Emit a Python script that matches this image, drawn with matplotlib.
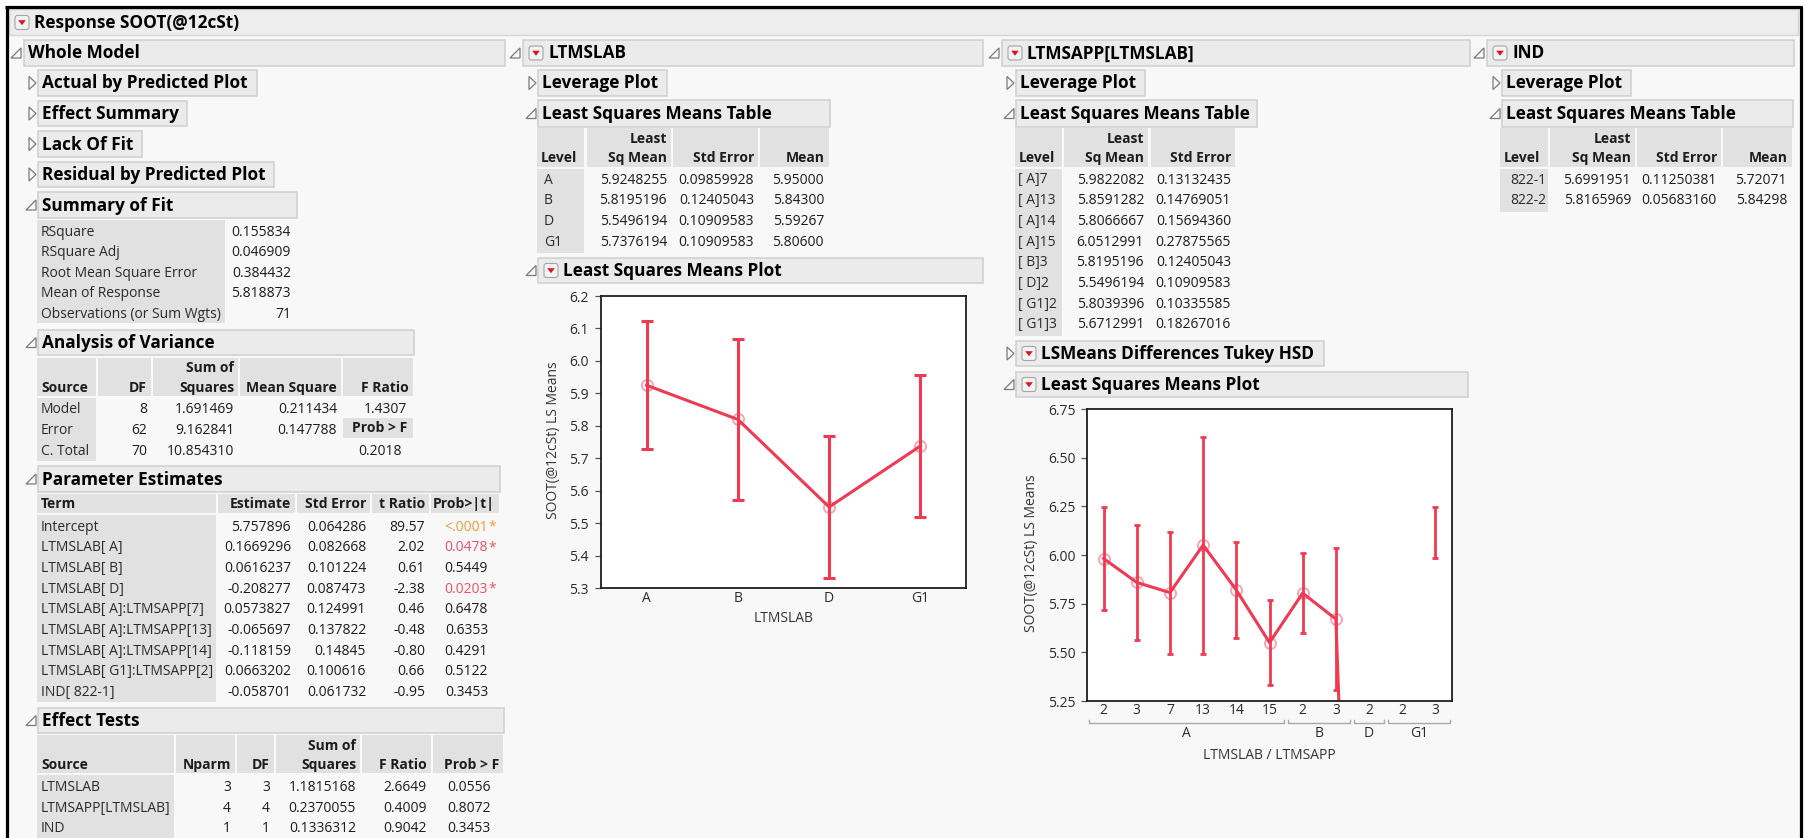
import numpy as np
import matplotlib
matplotlib.use("Agg")
import matplotlib.pyplot as plt
from matplotlib.patches import Rectangle, Polygon, FancyBboxPatch

plt.rcParams['font.family'] = ['Open Sans', 'DejaVu Sans']

# ---------------- data ----------------
report_title = "Response SOOT(@12cSt)"

fit_labels = ["RSquare", "RSquare Adj", "Root Mean Square Error", "Mean of Response",
              "Observations (or Sum Wgts)"]
fit_values = ["0.155834", "0.046909", "0.384432", "5.818873", "71"]

anova_source = ["Model", "Error", "C. Total"]
anova_df = ["8", "62", "70"]
anova_ss = ["1.691469", "9.162841", "10.854310"]
anova_ms = ["0.211434", "0.147788", ""]
anova_f = ["1.4307", "", ""]
anova_prob = "0.2018"

pe_terms = ["Intercept", "LTMSLAB[ A]", "LTMSLAB[ B]", "LTMSLAB[ D]",
            "LTMSLAB[ A]:LTMSAPP[7]", "LTMSLAB[ A]:LTMSAPP[13]", "LTMSLAB[ A]:LTMSAPP[14]",
            "LTMSLAB[ G1]:LTMSAPP[2]", "IND[ 822-1]"]
pe_est = ["5.757896", "0.1669296", "0.0616237", "-0.208277", "0.0573827", "-0.065697",
          "-0.118159", "0.0663202", "-0.058701"]
pe_se = ["0.064286", "0.082668", "0.101224", "0.087473", "0.124991", "0.137822",
         "0.14845", "0.100616", "0.061732"]
pe_t = ["89.57", "2.02", "0.61", "-2.38", "0.46", "-0.48", "-0.80", "0.66", "-0.95"]
pe_prob = ["<.0001*", "0.0478*", "0.5449", "0.0203*", "0.6478", "0.6353", "0.4291",
           "0.5122", "0.3453"]

et_source = ["LTMSLAB", "LTMSAPP[LTMSLAB]", "IND"]
et_nparm = ["3", "4", "1"]
et_df = ["3", "4", "1"]
et_ss = ["1.1815168", "0.2370055", "0.1336312"]
et_f = ["2.6649", "0.4009", "0.9042"]
et_prob = ["0.0556", "0.8072", "0.3453"]

lab_levels = ["A", "B", "D", "G1"]
lab_lsmean = [5.9248255, 5.8195196, 5.5496194, 5.7376194]
lab_se = [0.09859928, 0.12405043, 0.10909583, 0.10909583]
lab_mean = ["5.95000", "5.84300", "5.59267", "5.80600"]
lab_lower = [5.728, 5.572, 5.331, 5.519]
lab_upper = [6.122, 6.067, 5.768, 5.956]

app_levels = ["[ A]7", "[ A]13", "[ A]14", "[ A]15", "[ B]3", "[ D]2", "[ G1]2", "[ G1]3"]
app_lsmean = [5.9822082, 5.8591282, 5.8066667, 6.0512991, 5.8195196, 5.5496194,
              5.8039396, 5.6712991]
app_se = [0.13132435, 0.14769051, 0.15694360, 0.27875565, 0.12405043, 0.10909583,
          0.10335585, 0.18267016]

plot2_groups = ["A", "A", "A", "A", "A", "A", "B", "B", "D", "G1", "G1"]
plot2_labels = ["2", "3", "7", "13", "14", "15", "2", "3", "2", "2", "3"]
plot2_means = [5.982, 5.859, 5.807, 6.051, 5.820, 5.550, 5.804, 5.671, 1.0, np.nan, np.nan]
plot2_lower = [5.720, 5.564, 5.493, 5.494, 5.572, 5.331, 5.597, 5.306, np.nan, np.nan, 5.985]
plot2_upper = [6.245, 6.154, 6.120, 6.608, 6.067, 5.768, 6.011, 6.036, np.nan, np.nan, 6.245]

ind_levels = ["822-1", "822-2"]
ind_lsmean = [5.6991951, 5.8165969]
ind_se = [0.11250381, 0.05683160]
ind_mean = ["5.72071", "5.84298"]

# ---------------- style ----------------
W, H = 1804, 838
BG = '#F8F8F8'
HDR = '#EBEBEB'
HDR_EDGE = '#CFCFCF'
CELL = '#E1E1E1'
TXT = '#1C1C1C'
RED = '#EF3A52'
HSIZE = 12.4
BSIZE = 10

fig = plt.figure(figsize=(W / 100, H / 100), dpi=100, facecolor='white')
ov = fig.add_axes([0, 0, 1, 1])
ov.set_xlim(0, W)
ov.set_ylim(H, 0)
ov.set_axis_off()

ov.add_patch(Rectangle((7, 7), 1793, H, facecolor=BG, edgecolor='none'))
for xs, ys in [([6.5, 6.5], [6, H + 5]), ([5, 1802], [7.5, 7.5]), ([1800.5, 1800.5], [6, H + 5])]:
    ov.plot(xs, ys, color='black', lw=2.3, solid_capstyle='butt')


def button(x, yc):
    ov.add_patch(FancyBboxPatch((x, yc - 7), 14, 14, boxstyle='round,pad=0,rounding_size=2.5',
                                facecolor='#F3F3F3', edgecolor='#A5A5A5', lw=0.8))
    ov.add_patch(Polygon([(x + 3.2, yc - 2.3), (x + 10.8, yc - 2.3), (x + 7, yc + 2.7)],
                         closed=True, facecolor='#DD1620', edgecolor='none'))


def tri_closed(x, yc):
    ov.add_patch(Polygon([(x, yc - 6.5), (x, yc + 6.5), (x + 7, yc)], closed=True,
                         fill=False, edgecolor='#7A7A7A', lw=0.9))


def tri_open(x, yc):
    ov.add_patch(Polygon([(x, yc + 5), (x + 10, yc + 5), (x + 10, yc - 5)], closed=True,
                         fill=False, edgecolor='#7A7A7A', lw=0.9))


def header(x0, x1, y0, y1, text, tri=None, tri_x=None, btn=False):
    ov.add_patch(Rectangle((x0, y0), x1 - x0, y1 - y0, facecolor=HDR, edgecolor=HDR_EDGE, lw=1.1))
    yc = (y0 + y1) / 2
    tx = x0 + 4
    if btn:
        button(x0 + 6, yc)
        tx = x0 + 25
    ov.text(tx, yc + 0.5, text, fontsize=HSIZE, fontweight='bold', color='black',
            ha='left', va='center')
    if tri == 'open':
        tri_open(tri_x, yc)
    elif tri == 'closed':
        tri_closed(tri_x, yc)


def table(cols, hy0, hy1, head, head_y, rows_y, body_y1, data, first_left=None,
          first_right=None, val_right=None):
    for (x0, x1) in cols:
        ov.add_patch(Rectangle((x0, hy0), x1 - x0, hy1 - hy0, facecolor=CELL, edgecolor='none'))
    fx0, fx1 = cols[0]
    ov.add_patch(Rectangle((fx0, hy1 + 2), fx1 - fx0, body_y1 - hy1 - 2, facecolor=CELL,
                           edgecolor='none'))
    for j, (x0, x1) in enumerate(cols):
        for line, y in zip(head[j], head_y):
            if not line:
                continue
            if j == 0:
                ov.text(x0 + 4, y, line, fontsize=BSIZE, fontweight='bold', color=TXT,
                        ha='left', va='center')
            else:
                ov.text(x1 - 4, y, line, fontsize=BSIZE, fontweight='bold', color=TXT,
                        ha='right', va='center')
    for j, col in enumerate(data):
        x0, x1 = cols[j]
        for i, s in enumerate(col):
            y = rows_y[i]
            if j == 0:
                if first_right is not None:
                    ov.text(first_right, y, s, fontsize=BSIZE, color='#2A2A2A', ha='right', va='center')
                else:
                    ov.text(x0 + (first_left if first_left is not None else 4), y, s,
                            fontsize=BSIZE, color='#2A2A2A', ha='left', va='center')
            else:
                xr = x1 - 4 if val_right is None or val_right[j] is None else val_right[j]
                ov.text(xr, y, s, fontsize=BSIZE, color=TXT, ha='right', va='center')


# ---- title bar ----
ov.add_patch(Rectangle((9, 9), 1789, 26, facecolor='#EDEDED', edgecolor='#D6D6D6', lw=1))
button(15, 22.5)
ov.text(34, 23, report_title, fontsize=HSIZE, fontweight='bold', color='black', ha='left', va='center')

# ---- column headers ----
header(24, 505, 40, 66, "Whole Model", tri='open', tri_x=11)
header(523, 983, 40, 66, "LTMSLAB", tri='open', tri_x=510, btn=True)
header(1002, 1470, 40, 66, "LTMSAPP[LTMSLAB]", tri='open', tri_x=989, btn=True)
header(1487, 1794, 40, 66, "IND", tri='open', tri_x=1474, btn=True)

# ---- Whole Model column ----
header(38, 257, 70, 96, "Actual by Predicted Plot", tri='closed', tri_x=29)
header(38, 187, 101, 126, "Effect Summary", tri='closed', tri_x=29)
header(38, 142, 131, 157, "Lack Of Fit", tri='closed', tri_x=29)
header(38, 274, 162, 187, "Residual by Predicted Plot", tri='closed', tri_x=29)
header(38, 297, 192, 218, "Summary of Fit", tri='open', tri_x=26)

ov.add_patch(Rectangle((37, 220), 188, 103, facecolor=CELL, edgecolor='none'))
for i, (lab, val) in enumerate(zip(fit_labels, fit_values)):
    y = 232 + 20.6 * i
    ov.text(41, y, lab, fontsize=BSIZE, color='#2A2A2A', ha='left', va='center')
    ov.text(291, y, val, fontsize=BSIZE, color=TXT, ha='right', va='center')

header(38, 414, 330, 355, "Analysis of Variance", tri='open', tri_x=26)
table([(37, 96), (98, 151), (153, 238), (240, 341), (343, 413)], 358, 396,
      [["", "Source"], ["", "DF"], ["Sum of", "Squares"], ["", "Mean Square"], ["", "F Ratio"]],
      [368, 388], [409, 430, 451], 461,
      [anova_source, anova_df, anova_ss, anova_ms, anova_f],
      val_right=[None, None, None, None, 407])
ov.add_patch(Rectangle((343, 418), 70, 20, facecolor=CELL, edgecolor='none'))
ov.text(407, 428, "Prob > F", fontsize=BSIZE, fontweight='bold', color=TXT, ha='right', va='center')
ov.text(402, 451, anova_prob, fontsize=BSIZE, color=TXT, ha='right', va='center')

header(38, 500, 466, 492, "Parameter Estimates", tri='open', tri_x=26)
pe_rows = [527 + 20.7 * i for i in range(len(pe_terms))]
table([(37, 216), (218, 295), (297, 370), (372, 429), (431, 499)], 494, 513,
      [["Term"], ["Estimate"], ["Std Error"], ["t Ratio"], ["Prob>|t|"]],
      [504], pe_rows, 702, [pe_terms, pe_est, pe_se, pe_t])
for i, p in enumerate(pe_prob):
    col = TXT
    if p.startswith('<'):
        col = '#F39A3A'
    elif p.endswith('*'):
        col = '#F04E6A'
    ov.text(488, pe_rows[i], p.rstrip('*'), fontsize=BSIZE, color=col, ha='right', va='center')
    if p.endswith('*'):
        ov.text(488, pe_rows[i], '*', fontsize=BSIZE, color=col, ha='left', va='center')

header(38, 504, 708, 733, "Effect Tests", tri='open', tri_x=26)
table([(37, 174), (176, 235), (237, 274), (276, 360), (362, 431), (433, 503)], 735, 773,
      [["", "Source"], ["", "Nparm"], ["", "DF"], ["Sum of", "Squares"], ["", "F Ratio"],
       ["", "Prob > F"]],
      [746, 765], [787, 808, 828], 840,
      [et_source, et_nparm, et_df, et_ss, et_f, et_prob],
      val_right=[None, None, None, None, None, 491])

# ---- LTMSLAB column ----
header(538, 667, 70, 96, "Leverage Plot", tri='closed', tri_x=529)
header(538, 830, 100, 127, "Least Squares Means Table", tri='open', tri_x=526)
lsm_rows = [180 + 20.7 * i for i in range(8)]
table([(537, 584), (587, 671), (673, 758), (760, 829)], 128, 167,
      [["", "Level"], ["Least", "Sq Mean"], ["", "Std Error"], ["", "Mean"]],
      [139, 158], lsm_rows, 253,
      [lab_levels, ["%.7f" % v for v in lab_lsmean], ["%.8f" % v for v in lab_se], lab_mean],
      first_left=7, val_right=[None, None, None, 824])
header(538, 983, 258, 283, "Least Squares Means Plot", tri='open', tri_x=526, btn=True)

# ---- LTMSAPP column ----
header(1016, 1145, 70, 96, "Leverage Plot", tri='closed', tri_x=1007)
header(1016, 1257, 100, 127, "Least Squares Means Table", tri='open', tri_x=1004)
table([(1015, 1062), (1064, 1148), (1151, 1235)], 128, 167,
      [["", "Level"], ["Least", "Sq Mean"], ["", "Std Error"]],
      [139, 158], lsm_rows, 336,
      [app_levels, ["%.7f" % v for v in app_lsmean], ["%.8f" % v for v in app_se]],
      first_left=3)
header(1016, 1324, 341, 366, "LSMeans Differences Tukey HSD", tri='closed', tri_x=1007, btn=True)
header(1016, 1468, 372, 397, "Least Squares Means Plot", tri='open', tri_x=1004, btn=True)

# ---- IND column ----
header(1502, 1631, 70, 96, "Leverage Plot", tri='closed', tri_x=1493)
header(1502, 1793, 100, 127, "Least Squares Means Table", tri='open', tri_x=1490)
table([(1500, 1548), (1550, 1635), (1637, 1721), (1723, 1792)], 128, 167,
      [["", "Level"], ["Least", "Sq Mean"], ["", "Std Error"], ["", "Mean"]],
      [139, 158], lsm_rows, 212,
      [ind_levels, ["%.7f" % v for v in ind_lsmean], ["%.8f" % v for v in ind_se], ind_mean],
      first_right=1546, val_right=[None, None, None, 1787])


# ---------------- plots ----------------
def style_axes(ax, fmt, ylen=4.5, ypad=4.5):
    ax.set_facecolor('white')
    for s in ax.spines.values():
        s.set_color('#1E1E1E')
        s.set_linewidth(1.3)
    ax.tick_params(axis='y', length=ylen, width=0.9, color='#555555', pad=ypad,
                   labelsize=BSIZE, labelcolor='#2A2A2A')
    ax.tick_params(axis='x', length=0, pad=2, labelsize=BSIZE, labelcolor='#2A2A2A')
    ax.yaxis.set_major_formatter(plt.FormatStrFormatter(fmt))


# Plot 1
ax1 = fig.add_axes([601 / W, 1 - 588 / H, 365 / W, 292 / H])
x1 = np.arange(len(lab_levels))
lo1 = np.array(lab_lower)
up1 = np.array(lab_upper)
ax1.errorbar(x1, (lo1 + up1) / 2, yerr=(up1 - lo1) / 2, fmt='none', ecolor=RED,
             elinewidth=2.2, capsize=4.6, capthick=2.2)
ax1.plot(x1, lab_lsmean, color=RED, lw=2.2, marker='o', ms=8, mfc='none',
         mec=(0.94, 0.23, 0.33, 0.45), mew=1.4)
ax1.set_xlim(-0.5, len(lab_levels) - 0.5)
ax1.set_ylim(5.3, 6.2)
ax1.set_yticks(np.round(np.arange(5.3, 6.21, 0.1), 2))
ax1.set_xticks(x1)
ax1.set_xticklabels(lab_levels)
style_axes(ax1, '%.1f')
ax1.text(-0.1315, 0.505, "SOOT(@12cSt) LS Means", transform=ax1.transAxes, rotation=90,
         ha='center', va='center', fontsize=BSIZE, color='#333333')
ax1.text(0.5, -0.103, "LTMSLAB", transform=ax1.transAxes, ha='center', va='center',
         fontsize=BSIZE, color='#333333')

# Plot 2
ax2 = fig.add_axes([1087 / W, 1 - 701 / H, 365 / W, 292 / H])
x2 = np.arange(len(plot2_labels))
lo2 = np.array(plot2_lower)
up2 = np.array(plot2_upper)
ax2.errorbar(x2, (lo2 + up2) / 2, yerr=(up2 - lo2) / 2, fmt='none', ecolor=RED,
             elinewidth=2.0, capsize=2.2, capthick=2.0)
ax2.plot(x2, plot2_means, color=RED, lw=2.2, marker='o', ms=8, mfc='none',
         mec=(0.94, 0.23, 0.33, 0.45), mew=1.4)
ax2.set_xlim(-0.5, len(plot2_labels) - 0.5)
ax2.set_ylim(5.25, 6.75)
ax2.set_yticks(np.round(np.arange(5.25, 6.76, 0.25), 2))
ax2.set_xticks(x2)
ax2.set_xticklabels(plot2_labels)
style_axes(ax2, '%.2f', ylen=4.5, ypad=3.4)
ax2.tick_params(axis='x', pad=1.5)
ax2.text(-0.151, 0.507, "SOOT(@12cSt) LS Means", transform=ax2.transAxes, rotation=90,
         ha='center', va='center', fontsize=BSIZE, color='#333333')
ax2.text(0.5, -0.185, "LTMSLAB / LTMSAPP", transform=ax2.transAxes, ha='center', va='center',
         fontsize=BSIZE, color='#333333')
trans = ax2.get_xaxis_transform()
groups = []
for i, g in enumerate(plot2_groups):
    if groups and groups[-1][0] == g:
        groups[-1][2] = i
    else:
        groups.append([g, i, i])
for g, i0, i1 in groups:
    xa, xb = i0 - 0.44, i1 + 0.44
    ax2.plot([xa, xa, xb, xb], [-0.066, -0.0753, -0.0753, -0.066], transform=trans,
             color='#A8A8A8', lw=1.0, clip_on=False)
    ax2.text((i0 + i1) / 2, -0.113, g, transform=trans, ha='center', va='center',
             fontsize=BSIZE, color='#2A2A2A')

fig.savefig("out.png", dpi=100, facecolor=fig.get_facecolor())
